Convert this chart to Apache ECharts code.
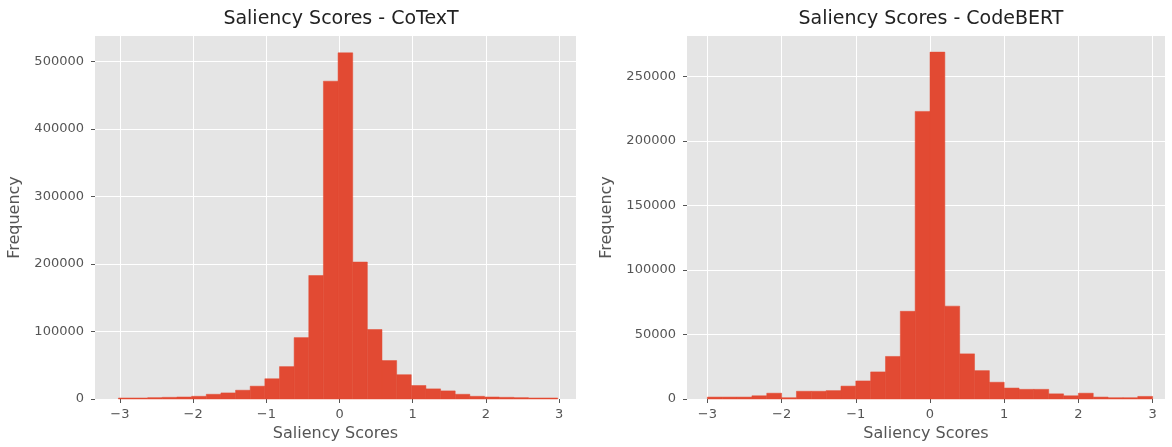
<!DOCTYPE html>
<html>
<head>
<meta charset="utf-8">
<script src="https://cdn.jsdelivr.net/npm/echarts@6/dist/echarts.min.js"></script>
<style>
  html, body { margin: 0; padding: 0; background: #fff; }
  #chart { width: 1172px; height: 447px; }
</style>
</head>
<body>
<div id="chart"></div>
<script>
// histogram bins, width 0.2
const binWidth = 0.2
const cotextBinStart = -3.02
const codebertBinStart = -3.0

const cotextCounts = [
  1500, 1500, 2000, 2500, 3000, 4000, 7000, 9000, 13000, 19000,
  30000, 48000, 91000, 183000, 471000, 513000, 203000, 103000, 57000, 36000,
  20000, 15000, 12000, 7000, 4000, 3000, 2500, 2000, 1500, 1500
]
const codebertCounts = [
  1500, 1500, 1500, 2500, 4500, 1000, 6000, 6000, 6500, 10000,
  14000, 21000, 33000, 68000, 223000, 269000, 72000, 35000, 22000, 13000,
  8500, 7500, 7500, 4000, 2500, 4500, 1500, 1000, 1000, 2000
]

const xTicks = [-3, -2, -1, 0, 1, 2, 3]
const cotextYTicks = [0, 100000, 200000, 300000, 400000, 500000]
const codebertYTicks = [0, 50000, 100000, 150000, 200000, 250000]

const titles = ['Saliency Scores - CoTexT', 'Saliency Scores - CodeBERT']

function toBins(start, counts) {
  return counts.map((c, i) => [start + i * binWidth, start + (i + 1) * binWidth, c])
}

const barColor = '#E24A33'
const labelColor = '#555555'
const font = 'DejaVu Sans'

function renderBin(params, api) {
  const p0 = api.coord([api.value(0), 0])
  const p1 = api.coord([api.value(1), api.value(2)])
  return {
    type: 'rect',
    shape: { x: p0[0], y: p1[1], width: p1[0] - p0[0], height: p0[1] - p1[1] },
    style: { fill: barColor, stroke: barColor, lineWidth: 0.5 }
  }
}

function xAxis(idx, min, max) {
  return {
    type: 'value',
    gridIndex: idx,
    min: min,
    max: max,
    name: 'Saliency Scores',
    nameLocation: 'middle',
    nameGap: 27,
    nameTextStyle: { color: labelColor, fontSize: 16, fontFamily: font },
    axisLine: { show: false, onZero: false },
    axisTick: { show: true, length: 4, lineStyle: { color: labelColor }, customValues: xTicks },
    axisLabel: {
      color: labelColor, fontSize: 13, fontFamily: font, margin: 9,
      customValues: xTicks,
      formatter: v => String(v).replace('-', '\u2212')
    },
    splitLine: { show: true, lineStyle: { color: '#ffffff', width: 1 } }
  }
}

function yAxis(idx, max, ticks) {
  return {
    type: 'value',
    gridIndex: idx,
    min: 0,
    max: max,
    name: 'Frequency',
    nameLocation: 'middle',
    nameGap: 72,
    nameTextStyle: { color: labelColor, fontSize: 16, fontFamily: font },
    axisLine: { show: false, onZero: false },
    axisTick: { show: true, length: 4, lineStyle: { color: labelColor }, customValues: ticks },
    axisLabel: {
      color: labelColor, fontSize: 13, fontFamily: font, margin: 11,
      customValues: ticks,
      formatter: v => String(v)
    },
    splitLine: { show: true, lineStyle: { color: '#ffffff', width: 1 } }
  }
}

const chart = echarts.init(document.getElementById('chart'))
chart.setOption({
  animation: false,
  backgroundColor: '#ffffff',
  title: [
    { text: titles[0], left: 336, top: 5, textAlign: 'center',
      textStyle: { fontSize: 19, fontWeight: 'normal', color: '#222', fontFamily: font } },
    { text: titles[1], left: 926, top: 5, textAlign: 'center',
      textStyle: { fontSize: 19, fontWeight: 'normal', color: '#222', fontFamily: font } }
  ],
  grid: [
    { left: 95, width: 481, top: 36, height: 366, show: true, backgroundColor: '#E5E5E5', borderWidth: 0 },
    { left: 687, width: 478, top: 36, height: 366, show: true, backgroundColor: '#E5E5E5', borderWidth: 0 }
  ],
  xAxis: [xAxis(0, -3.34, 3.23), xAxis(1, -3.275, 3.167)],
  yAxis: [yAxis(0, 538000, cotextYTicks), yAxis(1, 281500, codebertYTicks)],
  series: [
    {
      type: 'custom',
      xAxisIndex: 0, yAxisIndex: 0,
      renderItem: renderBin,
      encode: { x: [0, 1], y: 2 },
      data: toBins(cotextBinStart, cotextCounts)
    },
    {
      type: 'custom',
      xAxisIndex: 1, yAxisIndex: 1,
      renderItem: renderBin,
      encode: { x: [0, 1], y: 2 },
      data: toBins(codebertBinStart, codebertCounts)
    }
  ]
})
</script>
</body>
</html>
